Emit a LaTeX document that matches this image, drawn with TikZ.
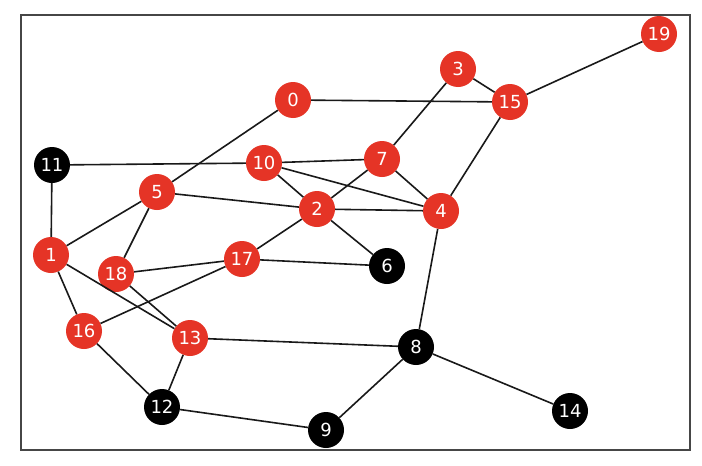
\documentclass[tikz,border=0pt]{standalone}
\usepackage{fontspec}
\setmainfont{DejaVu Sans}
\definecolor{nred}{RGB}{229,52,38}
\definecolor{frame}{RGB}{70,70,70}
\begin{document}
\begin{tikzpicture}[x=1pt,y=-1pt,
  nd/.style={circle,fill=nred,minimum size=36pt,inner sep=0pt,text=white,font=\fontsize{18}{18}\selectfont},
  bk/.style={nd,fill=black},
  ed/.style={draw=black!90,line width=1.6pt}]
\useasboundingbox (0,0) rectangle (702,466);
\fill[white] (0,0) rectangle (702,466);
\draw[frame,line width=1.4pt] (21,15) rectangle (690,450);
\node[nd] (n0) at (293,100) {0};
\node[nd] (n1) at (51,255) {1};
\node[nd] (n2) at (317,209) {2};
\node[nd] (n3) at (458,69) {3};
\node[nd] (n4) at (441,211) {4};
\node[nd] (n5) at (157,192) {5};
\node[bk] (n6) at (387,266) {6};
\node[nd] (n7) at (382,159) {7};
\node[bk] (n8) at (416,347) {8};
\node[bk] (n9) at (326,430) {9};
\node[nd] (n10) at (264,163) {10};
\node[bk] (n11) at (52,165) {11};
\node[bk] (n12) at (162,407) {12};
\node[nd] (n13) at (190,338) {13};
\node[bk] (n14) at (570,411) {14};
\node[nd] (n15) at (510,102) {15};
\node[nd] (n16) at (84,331) {16};
\node[nd] (n17) at (242,259) {17};
\node[nd] (n18) at (116,274) {18};
\node[nd] (n19) at (659,34) {19};
\foreach \a/\b in {0/15,0/5,3/15,3/7,15/19,15/4,11/10,10/7,10/2,10/4,7/4,7/2,5/2,2/4,2/6,2/17,5/1,5/18,11/1,1/16,1/13,18/17,18/13,17/6,17/16,16/12,13/12,13/8,4/8,8/9,8/14,12/9}
  \draw[ed] (n\a) -- (n\b);
\end{tikzpicture}
\end{document}
